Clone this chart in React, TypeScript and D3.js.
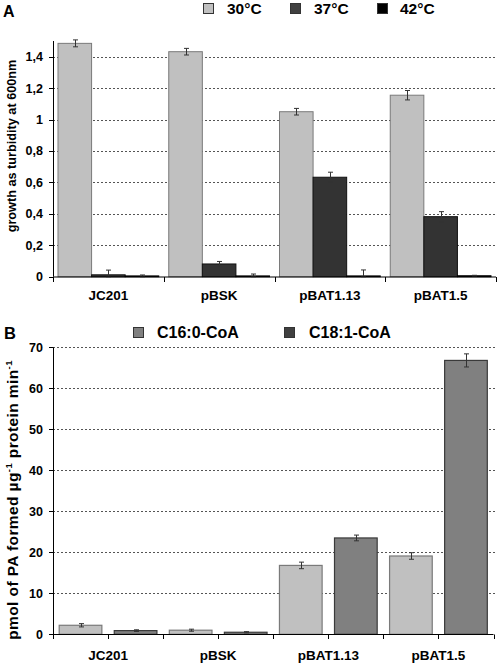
import React from "react";
import * as d3 from "d3";

const categoriesA = ["JC201", "pBSK", "pBAT1.13", "pBAT1.5"];
const seriesA = ["30°C", "37°C", "42°C"];
const values30 = [1.485, 1.432, 1.05, 1.155];
const values37 = [0.012, 0.081, 0.633, 0.382];
const values42 = [0.005, 0.005, 0.005, 0.006];
const err30 = [0.022, 0.021, 0.021, 0.03];
const err37 = [0.03, 0.016, 0.032, 0.032];
const err42 = [0.006, 0.012, 0.038, 0.003];
const ticksA = [0, 0.2, 0.4, 0.6, 0.8, 1, 1.2, 1.4];
const tickLabelsA = ["0", "0,2", "0,4", "0,6", "0,8", "1", "1,2", "1,4"];

const categoriesB = ["JC201", "pBSK", "pBAT1.13", "pBAT1.5"];
const seriesB = ["C16:0-CoA", "C18:1-CoA"];
const valuesC16 = [2.2, 1.0, 16.8, 19.1];
const valuesC18 = [0.9, 0.5, 23.5, 66.8];
const errC16 = [0.4, 0.25, 0.8, 0.8];
const errC18 = [0.2, 0.15, 0.7, 1.6];
const ticksB = [0, 10, 20, 30, 40, 50, 60, 70];

const FONT = "'Liberation Sans', Arial, sans-serif";

export default function App() {
  // Panel A scales
  const xA = d3.scaleBand<string>().domain(categoriesA).range([53, 496]);
  const bwA = xA.bandwidth();
  const subA = d3.scaleBand<string>().domain(seriesA).range([5, bwA - 5]);
  const yA = d3.scaleLinear().domain([0, 1.5]).range([276.7, 41]);
  const valsA = [values30, values37, values42];
  const errsA = [err30, err37, err42];
  const fillA = ["#c0c0c0", "#333333", "#000000"];
  const strokeA = ["#7a7a7a", "#111111", "#000000"];
  const legendA = [
    { x: 203, tx: 227, fill: "#c0c0c0" },
    { x: 290, tx: 314, fill: "#404040" },
    { x: 377, tx: 400, fill: "#000000" },
  ];

  // Panel B scales
  const xB = d3.scaleBand<string>().domain(categoriesB).range([53, 493.5]);
  const bwB = xB.bandwidth();
  const subB = d3.scaleBand<string>().domain(seriesB).range([0, bwB]);
  const barWB = subB.bandwidth() * 0.775;
  const yB = d3.scaleLinear().domain([0, 70]).range([634.3, 347.3]);
  const valsB = [valuesC16, valuesC18];
  const errsB = [errC16, errC18];
  const fillB = ["#c0c0c0", "#808080"];
  const strokeB = ["#7a7a7a", "#3a3a3a"];
  const legendB = [
    { x: 133, tx: 157, fill: "#808080" },
    { x: 284, tx: 309, fill: "#404040" },
  ];

  const tickXB: number[] = [];
  categoriesB.forEach((c) => {
    tickXB.push(xB(c)!);
    tickXB.push(xB(c)! + bwB / 2);
  });
  tickXB.push(493.5);

  return (
    <svg
      width={498}
      height={665}
      style={{ position: "absolute", left: 0, top: 0, background: "#fff" }}
      fontFamily={FONT}
    >
      <rect width={498} height={665} fill="#fff" />
      {/* ---------- Panel A ---------- */}
      <text x={3} y={17} fontSize={16} fontWeight="bold">A</text>
      {legendA.map((l, i) => (
        <g key={i}>
          <rect x={l.x + 0.5} y={3.5} width={10} height={10} fill={l.fill} stroke="#333" />
          <text x={l.tx} y={14} fontSize={15.5} fontWeight="bold">{seriesA[i]}</text>
        </g>
      ))}
      {ticksA.filter((t) => t > 0).map((t) => (
        <line key={t} x1={53} x2={496} y1={Math.round(yA(t)) + 0.5} y2={Math.round(yA(t)) + 0.5}
          stroke="#555" strokeDasharray="2,2" />
      ))}
      {categoriesA.map((c, ci) =>
        seriesA.map((s, si) => {
          const v = valsA[si][ci];
          const x = xA(c)! + subA(s)!;
          const w = subA.bandwidth();
          const y = yA(v);
          return (
            <rect key={c + s} x={x} y={y} width={w} height={yA(0) - y}
              fill={fillA[si]} stroke={strokeA[si]} strokeWidth={1} />
          );
        })
      )}
      {categoriesA.map((c, ci) =>
        seriesA.map((s, si) => {
          const v = valsA[si][ci];
          const e = errsA[si][ci];
          const cx = Math.round(xA(c)! + subA(s)! + subA.bandwidth() / 2) + 0.5;
          const y1 = yA(v + e);
          const y2 = yA(Math.max(0, v - e));
          return (
            <g key={"e" + c + s} stroke="#333" strokeWidth={1}>
              <line x1={cx} x2={cx} y1={y1} y2={y2} />
              <line x1={cx - 2.5} x2={cx + 2.5} y1={y1} y2={y1} />
              <line x1={cx - 2.5} x2={cx + 2.5} y1={y2} y2={y2} />
            </g>
          );
        })
      )}
      {/* axes A */}
      <line x1={53.5} x2={53.5} y1={yA(1.5)} y2={yA(0)} stroke="#000" />
      <line x1={53} x2={496} y1={277} y2={277} stroke="#000" />
      {ticksA.map((t, i) => (
        <g key={t}>
          <line x1={49} x2={53} y1={Math.round(yA(t)) + 0.5} y2={Math.round(yA(t)) + 0.5} stroke="#000" />
          <text x={43} y={yA(t) + 4.5} fontSize={12.5} fontWeight="bold" textAnchor="end">{tickLabelsA[i]}</text>
        </g>
      ))}
      {[...categoriesA.map((c) => xA(c)!), 496].map((x, i) => (
        <line key={i} x1={Math.round(x) + 0.5} x2={Math.round(x) + 0.5} y1={277} y2={282} stroke="#000" />
      ))}
      {categoriesA.map((c) => (
        <text key={c} x={xA(c)! + bwA / 2} y={300} fontSize={13.5} fontWeight="bold" textAnchor="middle">{c}</text>
      ))}
      <text transform="translate(16,146) rotate(-90)" fontSize={12.7} fontWeight="bold" textAnchor="middle">
        growth as turbidity at 600nm
      </text>

      {/* ---------- Panel B ---------- */}
      <text x={4} y={339} fontSize={16.5} fontWeight="bold">B</text>
      {legendB.map((l, i) => (
        <g key={i}>
          <rect x={l.x + 0.5} y={327.5} width={10} height={10} fill={l.fill} stroke="#333" />
          <text x={l.tx} y={338} fontSize={16} fontWeight="bold">{seriesB[i]}</text>
        </g>
      ))}
      {ticksB.filter((t) => t > 0).map((t) => (
        <line key={t} x1={53} x2={496} y1={Math.round(yB(t)) + 0.5} y2={Math.round(yB(t)) + 0.5}
          stroke="#555" strokeDasharray="2,2" />
      ))}
      {categoriesB.map((c, ci) =>
        seriesB.map((s, si) => {
          const v = valsB[si][ci];
          const x = xB(c)! + subB(s)! + (subB.bandwidth() - barWB) / 2;
          const y = yB(v);
          return (
            <rect key={c + s} x={x} y={y} width={barWB} height={yB(0) - y}
              fill={fillB[si]} stroke={strokeB[si]} strokeWidth={1.2} />
          );
        })
      )}
      {categoriesB.map((c, ci) =>
        seriesB.map((s, si) => {
          const v = valsB[si][ci];
          const e = errsB[si][ci];
          const cx = Math.round(xB(c)! + subB(s)! + subB.bandwidth() / 2) + 0.5;
          const y1 = yB(v + e);
          const y2 = yB(Math.max(0, v - e));
          return (
            <g key={"e" + c + s} stroke="#333" strokeWidth={1}>
              <line x1={cx} x2={cx} y1={y1} y2={y2} />
              <line x1={cx - 2.5} x2={cx + 2.5} y1={y1} y2={y1} />
              <line x1={cx - 2.5} x2={cx + 2.5} y1={y2} y2={y2} />
            </g>
          );
        })
      )}
      <line x1={53.5} x2={53.5} y1={yB(70)} y2={yB(0)} stroke="#000" />
      <line x1={53} x2={493.5} y1={634.5} y2={634.5} stroke="#000" />
      {ticksB.map((t) => (
        <g key={t}>
          <line x1={49} x2={53} y1={Math.round(yB(t)) + 0.5} y2={Math.round(yB(t)) + 0.5} stroke="#000" />
          <text x={43} y={yB(t) + 4.5} fontSize={12.5} fontWeight="bold" textAnchor="end">{t}</text>
        </g>
      ))}
      {tickXB.map((x, i) => (
        <line key={i} x1={Math.round(x) + 0.5} x2={Math.round(x) + 0.5} y1={634.5} y2={639} stroke="#000" />
      ))}
      {categoriesB.map((c) => (
        <text key={c} x={xB(c)! + bwB / 2} y={660} fontSize={13.5} fontWeight="bold" textAnchor="middle">{c}</text>
      ))}
      <text transform="translate(18,500) rotate(-90)" fontSize={15.5} letterSpacing={0.4} fontWeight="bold" textAnchor="middle">
        pmol of PA formed µg
        <tspan fontSize={9.5} dy={-6}>-1</tspan>
        <tspan dy={6}> protein min</tspan>
        <tspan fontSize={9.5} dy={-6}>-1</tspan>
      </text>
    </svg>
  );
}
